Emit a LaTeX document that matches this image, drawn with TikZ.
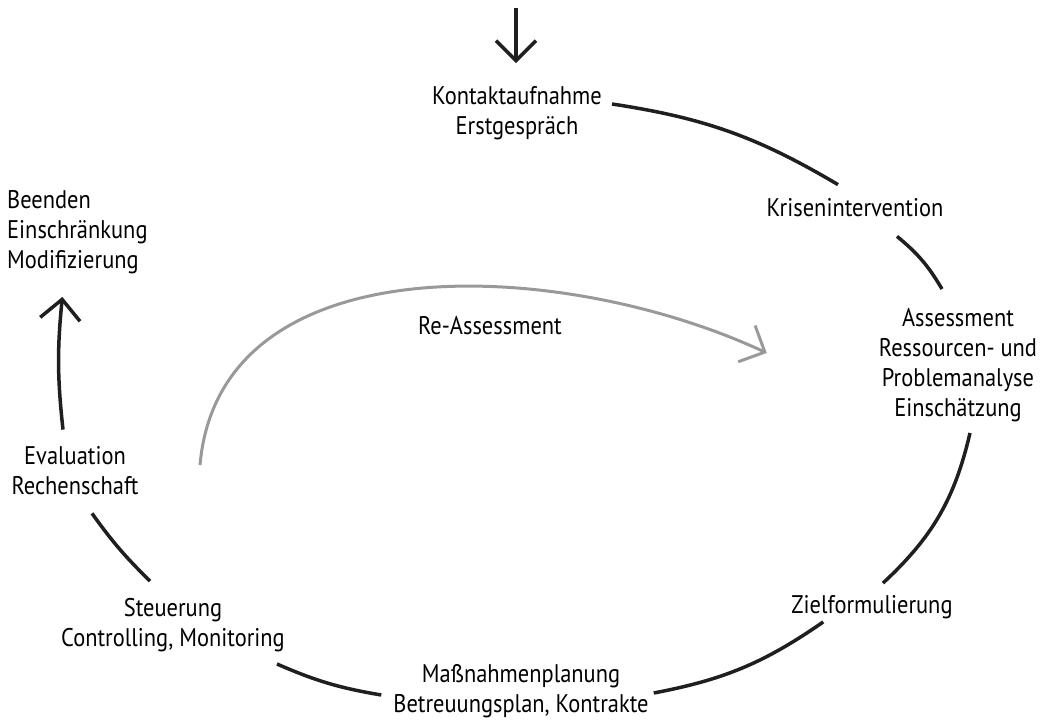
\documentclass[tikz,border=0pt]{standalone}
\usepackage{fontspec}
\setmainfont{PT Sans}[FakeStretch=0.88]
\usetikzlibrary{arrows.meta}

\begin{document}
\begin{tikzpicture}[x=1pt,y=1pt,
  every node/.style={inner sep=0pt,align=center,font=\fontsize{25.5}{30}\selectfont},
  ring/.style={line width=3.5pt,draw=black!88},
  tip/.style={-{Straight Barb[length=20pt,width=40pt]}},
  back/.style={line width=3pt,draw=black!40}]
		\useasboundingbox (0,0) rectangle (1049,721);
		\node (kontakt) at (517,608) {Kontaktaufnahme\\Erstgespräch};
		\node (krise) at (855,513) {Krisenintervention};
		\node (assess) at (958,356) {Assessment\\Ressourcen- und\\Problemanalyse\\Einschätzung};
		\node (ziel) at (872,114) {Zielformulierung};
		\node (mass) at (521,30) {Maßnahmenplanung\\Betreuungsplan, Kontrakte};
		\node (steuer) at (173,96) {Steuerung\\Controlling, Monitoring};
		\node (eval) at (75,250) {Evaluation\\Rechenschaft};
		\node[anchor=west,align=left] (beenden) at (7,489) {Beenden\\Einschränkung\\Modifizierung};
		\node (reass) at (490,395) {Re-Assessment};
		\coordinate (eingang) at (516,713);
		\coordinate (reStart) at (200,256);
		% Kreislauf
		\draw[ring,tip] (eingang) -- ([xshift=-1pt,yshift=23pt]kontakt.north);
		\draw[ring] ([xshift=10pt,yshift=9pt]kontakt.east) to[bend left=11] ([xshift=-17pt,yshift=14pt]krise.north);
		\draw[ring] ([xshift=42pt,yshift=-19pt]krise.south) to[bend left=10] ([xshift=-16pt,yshift=19pt]assess.north);
		\draw[ring] ([xshift=12pt,yshift=-11pt]assess.south) to[bend left=17] ([xshift=11pt,yshift=12pt]ziel.north);
		\draw[ring] ([xshift=32pt,yshift=-3pt]ziel.south west) to[bend left=12] ([xshift=5pt,yshift=-2pt]mass.east);
		\draw[ring] ([xshift=-12pt,yshift=-4pt]mass.west) to[bend left=7] ([xshift=-8pt,yshift=-12pt]steuer.south east);
		\draw[ring] ([xshift=-23pt,yshift=17pt]steuer.north) to[bend left=5] ([xshift=17pt,yshift=-18pt]eval.south);
		\draw[ring,tip] ([xshift=-12pt,yshift=17pt]eval.north) to[bend left=6] ([xshift=-15pt,yshift=-23pt]beenden.south);
		% Re-Assessment
		\draw[back,tip] (reStart) to[out=85,in=155] ([xshift=-112pt,yshift=12pt]assess.west);
\end{tikzpicture}
\end{document}
